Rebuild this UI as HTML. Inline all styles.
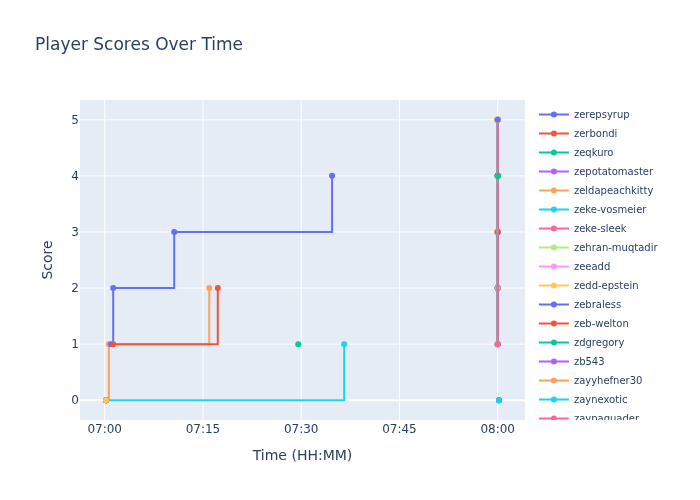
<!DOCTYPE html>
<html><head><meta charset="utf-8"><title>Player Scores Over Time</title>
<style>
html,body{margin:0;padding:0;background:#fff;width:700px;height:500px;overflow:hidden}
svg{display:block;will-change:transform}
text{font-family:"DejaVu Sans","Liberation Sans",sans-serif;fill:#2a3f5f;white-space:pre}
.crisp{}
.g{stroke:#fff;stroke-width:1px}
.ln{fill:none;stroke-width:2px;stroke-miterlimit:2}
.t12{font-size:12px}.t10{font-size:10px}
</style></head><body>
<svg width="700" height="500" viewBox="0 0 700 500">
<defs><clipPath id="cp"><rect width="445" height="320"/></clipPath><clipPath id="lg"><rect width="154" height="320"/></clipPath></defs>
<rect width="700" height="500" fill="#fff"/>
<rect x="80" y="100" width="445" height="320" fill="#e5ecf6"/>
<path class="crisp g" transform="translate(104.69,0)" d="M0,100v320"/>
<path class="crisp g" transform="translate(202.94,0)" d="M0,100v320"/>
<path class="crisp g" transform="translate(301.19,0)" d="M0,100v320"/>
<path class="crisp g" transform="translate(399.44,0)" d="M0,100v320"/>
<path class="crisp g" transform="translate(497.69,0)" d="M0,100v320"/>
<path class="crisp g" transform="translate(0,344.15)" d="M80,0h445"/>
<path class="crisp g" transform="translate(0,288.05)" d="M80,0h445"/>
<path class="crisp g" transform="translate(0,231.95)" d="M80,0h445"/>
<path class="crisp g" transform="translate(0,175.85)" d="M80,0h445"/>
<path class="crisp g" transform="translate(0,119.75)" d="M80,0h445"/>
<path class="crisp" transform="translate(0,400.25)" d="M80,0h445" style="stroke:#fff;stroke-width:2px"/>
<g transform="translate(80,100)" clip-path="url(#cp)">
<path class="ln" d="M417.69,244.15V19.75" stroke="#636efa"/><path transform="translate(417.69,244.15)" d="M3,0A3,3 0 1,1 0,-3A3,3 0 0,1 3,0Z" fill="#636efa"/><path transform="translate(417.69,19.75)" d="M3,0A3,3 0 1,1 0,-3A3,3 0 0,1 3,0Z" fill="#636efa"/><path class="ln" d="M417.69,244.15V131.95" stroke="#ef553b"/><path transform="translate(417.69,244.15)" d="M3,0A3,3 0 1,1 0,-3A3,3 0 0,1 3,0Z" fill="#ef553b"/><path transform="translate(417.69,131.95)" d="M3,0A3,3 0 1,1 0,-3A3,3 0 0,1 3,0Z" fill="#ef553b"/><path class="ln" d="M417.69,244.15V75.85" stroke="#00cc96"/><path transform="translate(417.69,244.15)" d="M3,0A3,3 0 1,1 0,-3A3,3 0 0,1 3,0Z" fill="#00cc96"/><path transform="translate(417.69,75.85)" d="M3,0A3,3 0 1,1 0,-3A3,3 0 0,1 3,0Z" fill="#00cc96"/>
<path class="ln" d="M26,300.25H28.84V244.15H129.27V188.05" stroke="#ffa15a"/><path transform="translate(26,300.25)" d="M3,0A3,3 0 1,1 0,-3A3,3 0 0,1 3,0Z" fill="#ffa15a"/><path transform="translate(28.84,244.15)" d="M3,0A3,3 0 1,1 0,-3A3,3 0 0,1 3,0Z" fill="#ffa15a"/><path transform="translate(129.27,188.05)" d="M3,0A3,3 0 1,1 0,-3A3,3 0 0,1 3,0Z" fill="#ffa15a"/>
<path class="ln" d="M26,300.25H264.2V244.15" stroke="#19d3f3"/><path transform="translate(26,300.25)" d="M3,0A3,3 0 1,1 0,-3A3,3 0 0,1 3,0Z" fill="#19d3f3"/><path transform="translate(264.2,244.15)" d="M3,0A3,3 0 1,1 0,-3A3,3 0 0,1 3,0Z" fill="#19d3f3"/>
<path transform="translate(26,300.25)" d="M3,0A3,3 0 1,1 0,-3A3,3 0 0,1 3,0Z" fill="#ab63fa"/><path transform="translate(26,300.25)" d="M3,0A3,3 0 1,1 0,-3A3,3 0 0,1 3,0Z" fill="#ef553b"/><path transform="translate(26,300.25)" d="M3,0A3,3 0 1,1 0,-3A3,3 0 0,1 3,0Z" fill="#636efa"/><path transform="translate(26,300.25)" d="M3,0A3,3 0 1,1 0,-3A3,3 0 0,1 3,0Z" fill="#ef553b"/><path transform="translate(26,300.25)" d="M3,0A3,3 0 1,1 0,-3A3,3 0 0,1 3,0Z" fill="#fecb52"/>
<path class="ln" d="M30.91,244.15H33.2V188.05H94.23V131.95H252.08V75.85" stroke="#636efa"/><path transform="translate(30.91,244.15)" d="M3,0A3,3 0 1,1 0,-3A3,3 0 0,1 3,0Z" fill="#636efa"/><path transform="translate(33.2,188.05)" d="M3,0A3,3 0 1,1 0,-3A3,3 0 0,1 3,0Z" fill="#636efa"/><path transform="translate(94.23,131.95)" d="M3,0A3,3 0 1,1 0,-3A3,3 0 0,1 3,0Z" fill="#636efa"/><path transform="translate(252.08,75.85)" d="M3,0A3,3 0 1,1 0,-3A3,3 0 0,1 3,0Z" fill="#636efa"/>
<path class="ln" d="M33.2,244.15H137.79V188.05" stroke="#ef553b"/><path transform="translate(33.2,244.15)" d="M3,0A3,3 0 1,1 0,-3A3,3 0 0,1 3,0Z" fill="#ef553b"/><path transform="translate(137.79,188.05)" d="M3,0A3,3 0 1,1 0,-3A3,3 0 0,1 3,0Z" fill="#ef553b"/>
<path transform="translate(218.24,244.15)" d="M3,0A3,3 0 1,1 0,-3A3,3 0 0,1 3,0Z" fill="#00cc96"/>
<path transform="translate(417.69,188.05)" d="M3,0A3,3 0 1,1 0,-3A3,3 0 0,1 3,0Z" fill="#ef553b"/><path transform="translate(417.69,188.05)" d="M3,0A3,3 0 1,1 0,-3A3,3 0 0,1 3,0Z" fill="#00cc96"/><path transform="translate(417.69,188.05)" d="M3,0A3,3 0 1,1 0,-3A3,3 0 0,1 3,0Z" fill="#636efa"/><path transform="translate(417.69,188.05)" d="M3,0A3,3 0 1,1 0,-3A3,3 0 0,1 3,0Z" fill="#ef553b"/><path transform="translate(417.69,188.05)" d="M3,0A3,3 0 1,1 0,-3A3,3 0 0,1 3,0Z" fill="#00cc96"/><path transform="translate(417.69,188.05)" d="M3,0A3,3 0 1,1 0,-3A3,3 0 0,1 3,0Z" fill="#636efa"/><path transform="translate(417.69,188.05)" d="M3,0A3,3 0 1,1 0,-3A3,3 0 0,1 3,0Z" fill="#ffa15a"/><path transform="translate(417.69,131.95)" d="M3,0A3,3 0 1,1 0,-3A3,3 0 0,1 3,0Z" fill="#ffa15a"/><path transform="translate(417.69,131.95)" d="M3,0A3,3 0 1,1 0,-3A3,3 0 0,1 3,0Z" fill="#ef553b"/><path transform="translate(417.69,131.95)" d="M3,0A3,3 0 1,1 0,-3A3,3 0 0,1 3,0Z" fill="#ef553b"/><path class="ln" d="M417.69,244.15V19.75" stroke="#b6e880"/><path class="ln" d="M417.69,244.15V19.75" stroke="#fecb52"/><path class="ln" d="M417.69,244.15V19.75" stroke="#fecb52"/><path class="ln" d="M417.69,244.15V19.75" stroke="#00cc96"/><path class="ln" d="M417.69,244.15V19.75" stroke="#636efa"/>
<path transform="translate(417.69,19.75)" d="M3,0A3,3 0 1,1 0,-3A3,3 0 0,1 3,0Z" fill="#ab63fa"/><path transform="translate(417.69,19.75)" d="M3,0A3,3 0 1,1 0,-3A3,3 0 0,1 3,0Z" fill="#ff97ff"/><path class="ln" d="M417.69,244.15V19.75" stroke="#ff6692"/><path transform="translate(417.69,244.15)" d="M3,0A3,3 0 1,1 0,-3A3,3 0 0,1 3,0Z" fill="#ff6692"/><path transform="translate(417.69,19.75)" d="M3,0A3,3 0 1,1 0,-3A3,3 0 0,1 3,0Z" fill="#ff6692"/>
<path transform="translate(417.69,75.85)" d="M3,0A3,3 0 1,1 0,-3A3,3 0 0,1 3,0Z" fill="#ff6692"/><path transform="translate(417.69,75.85)" d="M3,0A3,3 0 1,1 0,-3A3,3 0 0,1 3,0Z" fill="#ef553b"/><path transform="translate(417.69,75.85)" d="M3,0A3,3 0 1,1 0,-3A3,3 0 0,1 3,0Z" fill="#00cc96"/><path transform="translate(417.69,75.85)" d="M3,0A3,3 0 1,1 0,-3A3,3 0 0,1 3,0Z" fill="#ef553b"/><path transform="translate(417.69,75.85)" d="M3,0A3,3 0 1,1 0,-3A3,3 0 0,1 3,0Z" fill="#00cc96"/><path transform="translate(417.69,75.85)" d="M3,0A3,3 0 1,1 0,-3A3,3 0 0,1 3,0Z" fill="#00cc96"/><path transform="translate(417.69,19.75)" d="M3,0A3,3 0 1,1 0,-3A3,3 0 0,1 3,0Z" fill="#fecb52"/><path transform="translate(417.69,19.75)" d="M3,0A3,3 0 1,1 0,-3A3,3 0 0,1 3,0Z" fill="#ffa15a"/><path transform="translate(417.69,19.75)" d="M3,0A3,3 0 1,1 0,-3A3,3 0 0,1 3,0Z" fill="#00cc96"/><path transform="translate(417.69,19.75)" d="M3,0A3,3 0 1,1 0,-3A3,3 0 0,1 3,0Z" fill="#fecb52"/><path transform="translate(417.69,19.75)" d="M3,0A3,3 0 1,1 0,-3A3,3 0 0,1 3,0Z" fill="#ffa15a"/><path transform="translate(417.69,19.75)" d="M3,0A3,3 0 1,1 0,-3A3,3 0 0,1 3,0Z" fill="#fecb52"/><path transform="translate(417.69,19.75)" d="M3,0A3,3 0 1,1 0,-3A3,3 0 0,1 3,0Z" fill="#636efa"/><path transform="translate(419,300.25)" d="M3,0A3,3 0 1,1 0,-3A3,3 0 0,1 3,0Z" fill="#ef553b"/><path transform="translate(419,300.25)" d="M3,0A3,3 0 1,1 0,-3A3,3 0 0,1 3,0Z" fill="#00cc96"/><path transform="translate(419,300.25)" d="M3,0A3,3 0 1,1 0,-3A3,3 0 0,1 3,0Z" fill="#ffa15a"/><path transform="translate(419,300.25)" d="M3,0A3,3 0 1,1 0,-3A3,3 0 0,1 3,0Z" fill="#636efa"/><path transform="translate(419,300.25)" d="M3,0A3,3 0 1,1 0,-3A3,3 0 0,1 3,0Z" fill="#19d3f3"/>
</g>
<text class="t12" text-anchor="middle" x="0" y="433" transform="translate(104.69,0)">07:00</text>
<text class="t12" text-anchor="middle" x="0" y="433" transform="translate(202.94,0)">07:15</text>
<text class="t12" text-anchor="middle" x="0" y="433" transform="translate(301.19,0)">07:30</text>
<text class="t12" text-anchor="middle" x="0" y="433" transform="translate(399.44,0)">07:45</text>
<text class="t12" text-anchor="middle" x="0" y="433" transform="translate(497.69,0)">08:00</text>
<text class="t12" text-anchor="end" x="79" y="4.2" transform="translate(0,400.25)">0</text>
<text class="t12" text-anchor="end" x="79" y="4.2" transform="translate(0,344.15)">1</text>
<text class="t12" text-anchor="end" x="79" y="4.2" transform="translate(0,288.05)">2</text>
<text class="t12" text-anchor="end" x="79" y="4.2" transform="translate(0,231.95)">3</text>
<text class="t12" text-anchor="end" x="79" y="4.2" transform="translate(0,175.85)">4</text>
<text class="t12" text-anchor="end" x="79" y="4.2" transform="translate(0,119.75)">5</text>
<g transform="translate(533.9,100)">
<rect class="crisp" width="154" height="320" fill="#fff"/>
<g clip-path="url(#lg)">
<g transform="translate(0,14.5)"><text class="t10" x="40" y="3.9">zerepsyrup</text><path d="M5,0h30" style="fill:none;stroke:#636efa;stroke-width:2px"/><path transform="translate(20,0)" d="M3,0A3,3 0 1,1 0,-3A3,3 0 0,1 3,0Z" fill="#636efa"/></g>
<g transform="translate(0,33.5)"><text class="t10" x="40" y="3.9">zerbondi</text><path d="M5,0h30" style="fill:none;stroke:#ef553b;stroke-width:2px"/><path transform="translate(20,0)" d="M3,0A3,3 0 1,1 0,-3A3,3 0 0,1 3,0Z" fill="#ef553b"/></g>
<g transform="translate(0,52.5)"><text class="t10" x="40" y="3.9">zeqkuro</text><path d="M5,0h30" style="fill:none;stroke:#00cc96;stroke-width:2px"/><path transform="translate(20,0)" d="M3,0A3,3 0 1,1 0,-3A3,3 0 0,1 3,0Z" fill="#00cc96"/></g>
<g transform="translate(0,71.5)"><text class="t10" x="40" y="3.9">zepotatomaster</text><path d="M5,0h30" style="fill:none;stroke:#ab63fa;stroke-width:2px"/><path transform="translate(20,0)" d="M3,0A3,3 0 1,1 0,-3A3,3 0 0,1 3,0Z" fill="#ab63fa"/></g>
<g transform="translate(0,90.5)"><text class="t10" x="40" y="3.9">zeldapeachkitty</text><path d="M5,0h30" style="fill:none;stroke:#ffa15a;stroke-width:2px"/><path transform="translate(20,0)" d="M3,0A3,3 0 1,1 0,-3A3,3 0 0,1 3,0Z" fill="#ffa15a"/></g>
<g transform="translate(0,109.5)"><text class="t10" x="40" y="3.9">zeke-vosmeier</text><path d="M5,0h30" style="fill:none;stroke:#19d3f3;stroke-width:2px"/><path transform="translate(20,0)" d="M3,0A3,3 0 1,1 0,-3A3,3 0 0,1 3,0Z" fill="#19d3f3"/></g>
<g transform="translate(0,128.5)"><text class="t10" x="40" y="3.9">zeke-sleek</text><path d="M5,0h30" style="fill:none;stroke:#ff6692;stroke-width:2px"/><path transform="translate(20,0)" d="M3,0A3,3 0 1,1 0,-3A3,3 0 0,1 3,0Z" fill="#ff6692"/></g>
<g transform="translate(0,147.5)"><text class="t10" x="40" y="3.9">zehran-muqtadir</text><path d="M5,0h30" style="fill:none;stroke:#b6e880;stroke-width:2px"/><path transform="translate(20,0)" d="M3,0A3,3 0 1,1 0,-3A3,3 0 0,1 3,0Z" fill="#b6e880"/></g>
<g transform="translate(0,166.5)"><text class="t10" x="40" y="3.9">zeeadd</text><path d="M5,0h30" style="fill:none;stroke:#ff97ff;stroke-width:2px"/><path transform="translate(20,0)" d="M3,0A3,3 0 1,1 0,-3A3,3 0 0,1 3,0Z" fill="#ff97ff"/></g>
<g transform="translate(0,185.5)"><text class="t10" x="40" y="3.9">zedd-epstein</text><path d="M5,0h30" style="fill:none;stroke:#fecb52;stroke-width:2px"/><path transform="translate(20,0)" d="M3,0A3,3 0 1,1 0,-3A3,3 0 0,1 3,0Z" fill="#fecb52"/></g>
<g transform="translate(0,204.5)"><text class="t10" x="40" y="3.9">zebraless</text><path d="M5,0h30" style="fill:none;stroke:#636efa;stroke-width:2px"/><path transform="translate(20,0)" d="M3,0A3,3 0 1,1 0,-3A3,3 0 0,1 3,0Z" fill="#636efa"/></g>
<g transform="translate(0,223.5)"><text class="t10" x="40" y="3.9">zeb-welton</text><path d="M5,0h30" style="fill:none;stroke:#ef553b;stroke-width:2px"/><path transform="translate(20,0)" d="M3,0A3,3 0 1,1 0,-3A3,3 0 0,1 3,0Z" fill="#ef553b"/></g>
<g transform="translate(0,242.5)"><text class="t10" x="40" y="3.9">zdgregory</text><path d="M5,0h30" style="fill:none;stroke:#00cc96;stroke-width:2px"/><path transform="translate(20,0)" d="M3,0A3,3 0 1,1 0,-3A3,3 0 0,1 3,0Z" fill="#00cc96"/></g>
<g transform="translate(0,261.5)"><text class="t10" x="40" y="3.9">zb543</text><path d="M5,0h30" style="fill:none;stroke:#ab63fa;stroke-width:2px"/><path transform="translate(20,0)" d="M3,0A3,3 0 1,1 0,-3A3,3 0 0,1 3,0Z" fill="#ab63fa"/></g>
<g transform="translate(0,280.5)"><text class="t10" x="40" y="3.9">zayyhefner30</text><path d="M5,0h30" style="fill:none;stroke:#ffa15a;stroke-width:2px"/><path transform="translate(20,0)" d="M3,0A3,3 0 1,1 0,-3A3,3 0 0,1 3,0Z" fill="#ffa15a"/></g>
<g transform="translate(0,299.5)"><text class="t10" x="40" y="3.9">zaynexotic</text><path d="M5,0h30" style="fill:none;stroke:#19d3f3;stroke-width:2px"/><path transform="translate(20,0)" d="M3,0A3,3 0 1,1 0,-3A3,3 0 0,1 3,0Z" fill="#19d3f3"/></g>
<g transform="translate(0,318.5)"><text class="t10" x="40" y="3.9">zaypaquader</text><path d="M5,0h30" style="fill:none;stroke:#ff6692;stroke-width:2px"/><path transform="translate(20,0)" d="M3,0A3,3 0 1,1 0,-3A3,3 0 0,1 3,0Z" fill="#ff6692"/></g>
<g transform="translate(0,337.5)"><text class="t10" x="40" y="3.9">zaybutton</text><path d="M5,0h30" style="fill:none;stroke:#b6e880;stroke-width:2px"/><path transform="translate(20,0)" d="M3,0A3,3 0 1,1 0,-3A3,3 0 0,1 3,0Z" fill="#b6e880"/></g>
</g></g>
<text x="35" y="50" style="font-size:17px">Player Scores Over Time</text>
<text x="302.5" y="460.3" text-anchor="middle" style="font-size:14px">Time (HH:MM)</text>
<text transform="rotate(-90,51.959375,260)" x="51.959375" y="260" text-anchor="middle" style="font-size:14px">Score</text>
</svg>
</body></html>
